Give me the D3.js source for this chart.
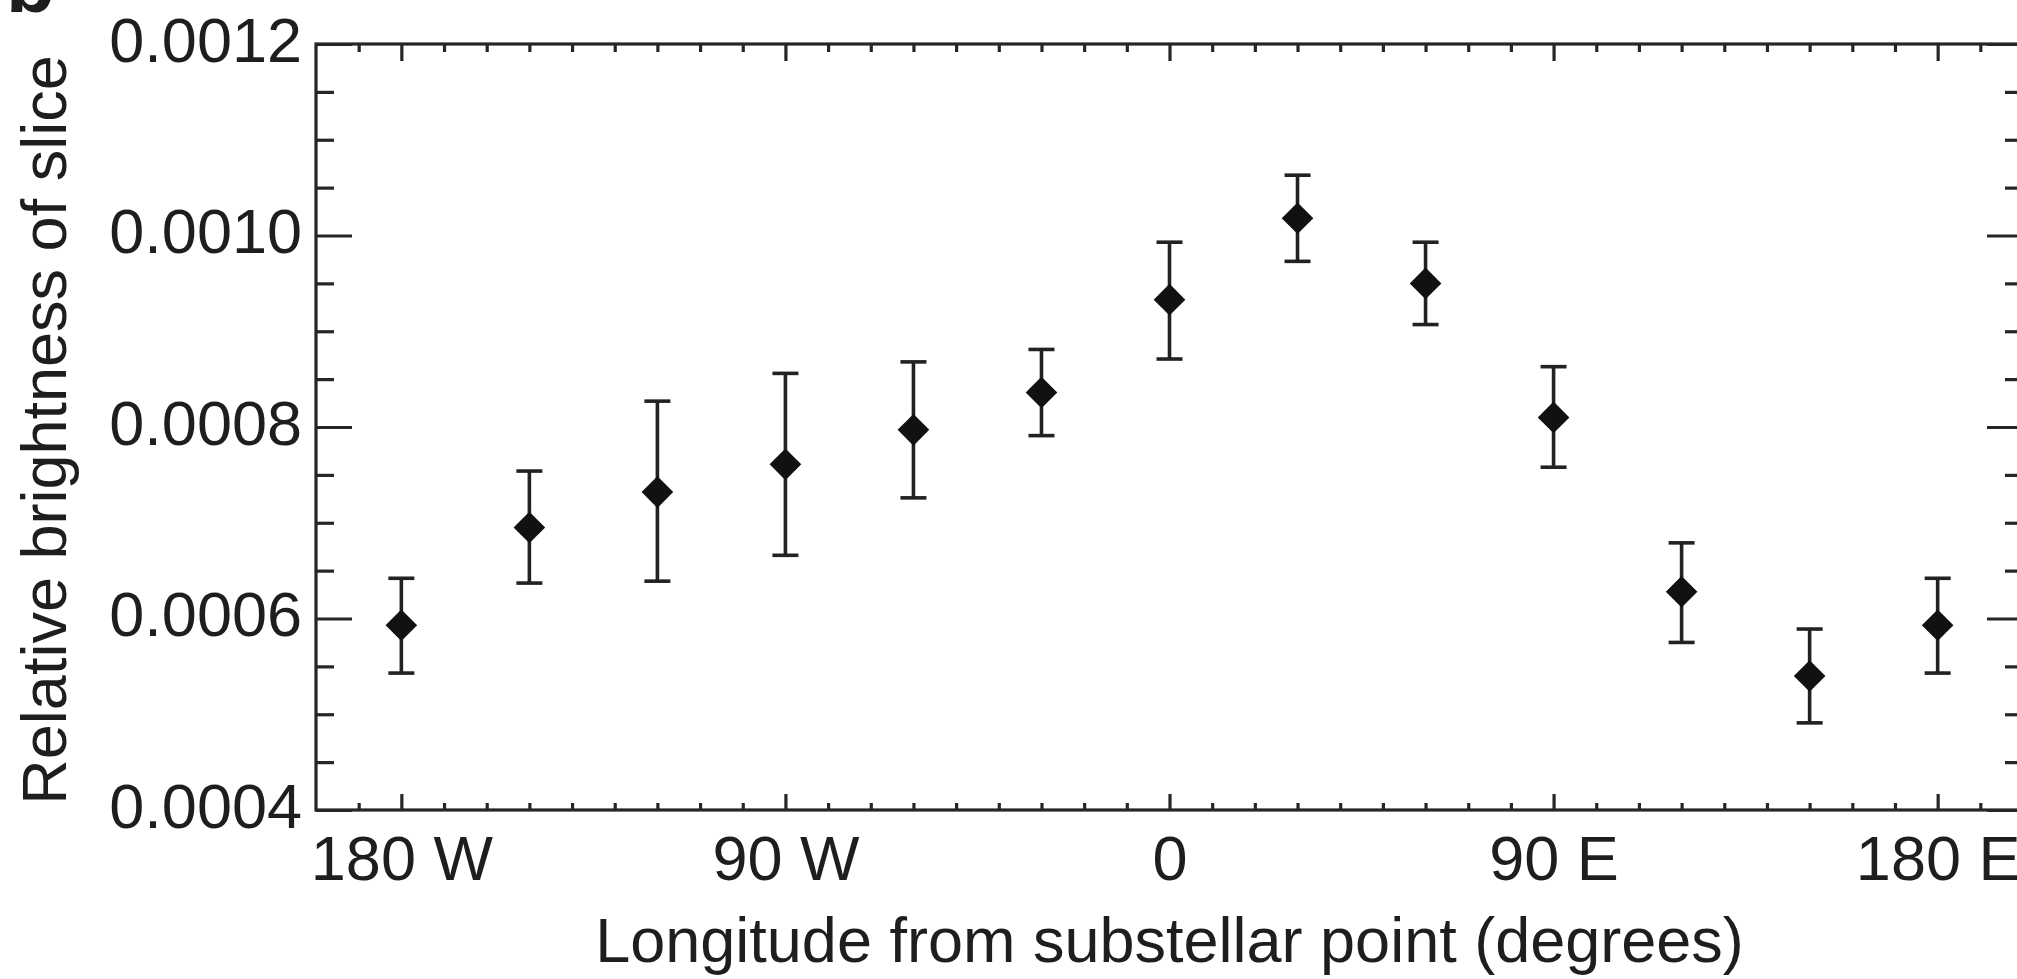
<!doctype html>
<html>
  <head>
    <script src="https://cdnjs.cloudflare.com/ajax/libs/d3/7.8.5/d3.min.js"></script>
    <style>
      body { margin: 0; background: #fff; }
      text { font-family: "Liberation Sans", Arial, sans-serif; fill: #1e1e1e; }
      .axis path.domain { display: none; }
      .axis line { stroke: #262626; stroke-width: 3.2; }
    </style>
  </head>
  <body>
    <svg width="2017" height="979"></svg>
    <script>
        // longitude of each slice (degrees, W negative) and its brightness
        var longitudes = [-180, -150, -120, -90, -60, -30, 0, 30, 60, 90, 120, 150, 180];
        var brightness = [0.000593, 0.000695, 0.000732, 0.000761, 0.000797, 0.000836, 0.000933,
                          0.001018, 0.000950, 0.000810, 0.000628, 0.000540, 0.000593];
        var errUpper   = [0.000642, 0.000754, 0.000827, 0.000856, 0.000868, 0.000881, 0.000993,
                          0.001063, 0.000993, 0.000863, 0.000679, 0.000589, 0.000642];
        var errLower   = [0.000543, 0.000637, 0.000639, 0.000666, 0.000726, 0.000791, 0.000871,
                          0.000973, 0.000907, 0.000758, 0.000575, 0.000491, 0.000543];

        var xTickValues = [-180, -90, 0, 90, 180];
        var xTickLabels = ["180 W", "90 W", "0", "90 E", "180 E"];
        var yTickValues = [0.0004, 0.0006, 0.0008, 0.0010, 0.0012];
        var yTickLabels = ["0.0004", "0.0006", "0.0008", "0.0010", "0.0012"];

        var svg = d3.select("svg");
        var plotLeft = 316, plotRight = 2023, plotTop = 44, plotBottom = 810;

        var x = d3.scaleLinear().domain([-200, 200]).range([plotLeft, plotRight]);
        var y = d3.scaleLinear().domain([0.0004, 0.0012]).range([plotBottom, plotTop]);

        var xMinor = d3.range(-190, 200, 10).filter(d => xTickValues.indexOf(d) < 0);
        var yMinor = d3.range(0.00045, 0.0012, 0.00005).filter(d => yTickValues.every(v => Math.abs(v - d) > 1e-9));

        // bottom axis
        svg.append("g").attr("class", "axis").attr("transform", "translate(0," + plotBottom + ")")
            .call(d3.axisBottom(x).tickValues(xMinor).tickSize(-7).tickFormat(""));
        svg.append("g").attr("class", "axis").attr("transform", "translate(0," + plotBottom + ")")
            .call(d3.axisBottom(x).tickValues(xTickValues).tickSize(-16).tickPadding(25)
                .tickFormat((d, i) => xTickLabels[i]))
            .selectAll("text").style("font-size", "63px").attr("fill", "#1e1e1e");

        // top axis
        svg.append("g").attr("class", "axis").attr("transform", "translate(0," + plotTop + ")")
            .call(d3.axisTop(x).tickValues(xMinor).tickSize(-8).tickFormat(""));
        svg.append("g").attr("class", "axis").attr("transform", "translate(0," + plotTop + ")")
            .call(d3.axisTop(x).tickValues(xTickValues).tickSize(-17).tickFormat(""));

        // left axis
        svg.append("g").attr("class", "axis").attr("transform", "translate(" + plotLeft + ",0)")
            .call(d3.axisLeft(y).tickValues(yMinor).tickSize(-18).tickFormat(""));
        svg.append("g").attr("class", "axis").attr("transform", "translate(" + plotLeft + ",0)")
            .call(d3.axisLeft(y).tickValues(yTickValues).tickSize(-36).tickPadding(14)
                .tickFormat((d, i) => yTickLabels[i]))
            .selectAll("text").style("font-size", "63px").attr("fill", "#1e1e1e")
            .attr("dy", "0.27em");

        // right axis
        svg.append("g").attr("class", "axis").attr("transform", "translate(" + plotRight + ",0)")
            .call(d3.axisRight(y).tickValues(yMinor).tickSize(-18).tickFormat(""));
        svg.append("g").attr("class", "axis").attr("transform", "translate(" + plotRight + ",0)")
            .call(d3.axisRight(y).tickValues(yTickValues).tickSize(-36).tickFormat(""));

        // frame
        svg.append("rect")
            .attr("x", plotLeft).attr("y", plotTop)
            .attr("width", plotRight - plotLeft).attr("height", plotBottom - plotTop)
            .attr("fill", "none").attr("stroke", "#262626").attr("stroke-width", 3.2);

        // error bars
        var bars = svg.append("g").attr("stroke", "#222").attr("stroke-width", 3.6)
            .selectAll("g").data(longitudes).enter().append("g");
        bars.append("line")
            .attr("x1", d => x(d)).attr("x2", d => x(d))
            .attr("y1", (d, i) => y(errUpper[i])).attr("y2", (d, i) => y(errLower[i]));
        bars.append("line")
            .attr("x1", d => x(d) - 13).attr("x2", d => x(d) + 13)
            .attr("y1", (d, i) => y(errUpper[i])).attr("y2", (d, i) => y(errUpper[i]));
        bars.append("line")
            .attr("x1", d => x(d) - 13).attr("x2", d => x(d) + 13)
            .attr("y1", (d, i) => y(errLower[i])).attr("y2", (d, i) => y(errLower[i]));

        // diamond markers
        svg.append("g").selectAll("path").data(longitudes).enter().append("path")
            .attr("d", d3.symbol(d3.symbolSquare, 500))
            .attr("transform", (d, i) => "translate(" + x(d) + "," + y(brightness[i]) + ") rotate(45)")
            .attr("fill", "#111");

        // axis titles
        svg.append("text")
            .attr("x", x(0)).attr("y", 962)
            .attr("text-anchor", "middle")
            .style("font-size", "63px")
            .text("Longitude from substellar point (degrees)");

        svg.append("text")
            .attr("transform", "translate(66,430) rotate(-90)")
            .attr("text-anchor", "middle")
            .style("font-size", "63px")
            .text("Relative brightness of slice");

        // panel letter, cut off at the top edge
        svg.append("text")
            .attr("x", 6).attr("y", 12)
            .style("font-size", "80px").style("font-weight", "bold")
            .text("b");
    </script>
  </body>
</html>
